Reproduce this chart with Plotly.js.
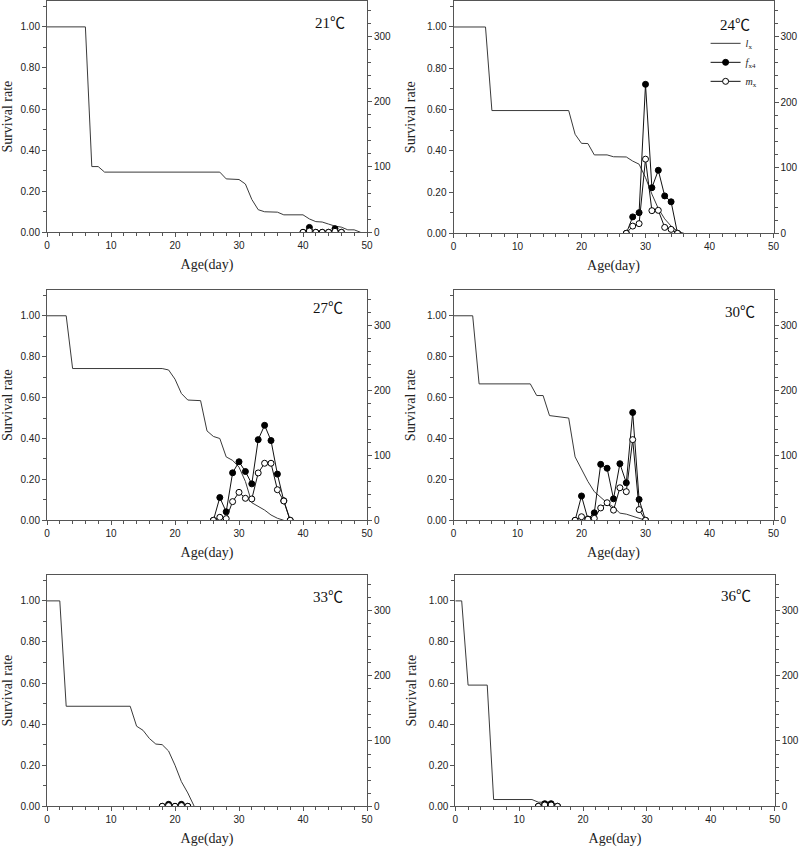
<!DOCTYPE html>
<html>
<head>
<meta charset="utf-8">
<script src="https://cdn.plot.ly/plotly-3.0.1.min.js"></script>
<style>html,body{margin:0;padding:0;background:#fff;}#chart{width:800px;height:848px;}</style>
</head>
<body>
<div id="chart"></div>
<script>
// ---------- data ----------
const temps = ["21℃", "24℃", "27℃", "30℃", "33℃", "36℃"];

const lxDays21 = [0,6,7,8,9,27,28,30,31,32,33,34,36,37,40,41,42,43,44,45,46,47,48,49];
const lx21 = [1,1,0.32,0.32,0.293,0.293,0.26,0.257,0.235,0.16,0.11,0.10,0.098,0.085,0.085,0.065,0.052,0.05,0.04,0.03,0.025,0.012,0.012,0];
const repDays21 = [40,41,42,43,44,45,46];
const fx21 = [0,7.5,0,0,0,5.5,0];
const mx21 = [0,2,0,0,0,1.5,0];

const lxDays24 = [0,5,6,18,19,20,21,22,24,25,27,28,29,30,31,32,33,34,35,36];
const lx24 = [1,1,0.595,0.595,0.48,0.436,0.435,0.38,0.38,0.371,0.37,0.35,0.335,0.27,0.19,0.12,0.07,0.035,0.01,0];
const repDays24 = [27,28,29,30,31,32,33,34,35];
const fx24 = [0,25,31.5,227,69.5,96,57,48,0];
const mx24 = [0,11,14.7,113,34.5,35,9,6,0];

const lxDays27 = [0,3,4,18,19,20,21,22,24,25,26,27,28,29,30,31,32,33,34,35,36,37];
const lx27 = [1,1,0.742,0.742,0.735,0.69,0.62,0.588,0.585,0.437,0.41,0.40,0.31,0.293,0.26,0.19,0.086,0.07,0.05,0.026,0.01,0];
const repDays27 = [26,27,28,29,30,31,32,33,34,35,36,37,38];
const fx27 = [0,35,13,73,90,75,56,124,146,122.6,71,30,0];
const mx27 = [0,4.6,2.6,28.7,43,33.8,32.8,72.8,87.7,87.7,47,29.7,0];

const lxDays30 = [0,3,4,12,13,14,15,17,18,19,20,21,22,23,24,25,26,27,28,29,30];
const lx30 = [1,1,0.667,0.667,0.61,0.61,0.512,0.504,0.50,0.31,0.25,0.19,0.14,0.11,0.085,0.065,0.035,0.03,0.02,0.007,0];
const repDays30 = [19,20,21,22,23,24,25,26,27,28,29,30];
const fx30 = [0,37.4,2,11.5,86,80,33,87,57.6,165.7,32,0];
const mx30 = [0,5.5,1.5,3,19,27,15.6,50,44,124,16.5,0];

const lxDays33 = [0,2,3,13,14,15,16,17,18,19,20,21,22,23];
const lx33 = [1,1,0.487,0.487,0.39,0.37,0.33,0.303,0.30,0.269,0.2,0.12,0.065,0];
const repDays33 = [18,19,20,21,22];
const fx33 = [0,3,0,3,0];
const mx33 = [0,1,0,1,0];

const lxDays36 = [0,1,2,5,6,12,13,15,16];
const lx36 = [1,1,0.59,0.59,0.033,0.033,0.02,0.02,0.005];
const repDays36 = [13,14,15,16];
const fx36 = [0,4,4,0];
const mx36 = [0,2,2,0];

const xTitle = "Age(day)";
const yTitle = "Survival rate";
const legendNames = ["<i>l</i><sub>x</sub>", "<i>f</i><sub>x4</sub>", "<i>m</i><sub>x</sub>"];

const panels = [
  {lxDays: lxDays21, lx: lx21, rep: repDays21, fx: fx21, mx: mx21},
  {lxDays: lxDays24, lx: lx24, rep: repDays24, fx: fx24, mx: mx24},
  {lxDays: lxDays27, lx: lx27, rep: repDays27, fx: fx27, mx: mx27},
  {lxDays: lxDays30, lx: lx30, rep: repDays30, fx: fx30, mx: mx30},
  {lxDays: lxDays33, lx: lx33, rep: repDays33, fx: fx33, mx: mx33},
  {lxDays: lxDays36, lx: lx36, rep: repDays36, fx: fx36, mx: mx36}
];

// ---------- layout geometry (pixels -> paper fractions) ----------
const W = 800, H = 848;
const xPix = [[47,367],[453.5,773.5],[47,367],[453.5,773.5],[47,367],[455.3,774.7]];
const yPix = [[1,232.3],[1,233.3],[290,520.3],[290,520.3],[575,806.3],[575,806.3]];
const labelPos = [[0.884,0.905],[0.881,0.897],[0.878,0.924],[0.894,0.904],[0.878,0.905],[0.879,0.909]];

const tickFont = {family: "Liberation Sans, Arial, sans-serif", size: 10, color: "#222"};
const titleFont = {family: "Liberation Serif, Times New Roman, serif", size: 14, color: "#222"};
const axisColor = "#555";

const traces = [];
const layout = {
  width: W, height: H,
  margin: {l: 0, r: 0, t: 0, b: 0},
  paper_bgcolor: "#fff", plot_bgcolor: "#fff",
  showlegend: true,
  legend: {
    x: 0.882, y: 0.966, xanchor: "left", yanchor: "top",
    bgcolor: "rgba(0,0,0,0)", itemwidth: 30, tracegroupgap: 0,
    font: {family: "Liberation Serif, Times New Roman, serif", size: 10, color: "#222"}
  },
  annotations: []
};

panels.forEach((p, k) => {
  const i = k + 1;
  const xa = "x" + i, yl = "y" + (2*i-1), yr = "y" + (2*i);
  const xKey = "xaxis" + i, ylKey = "yaxis" + (2*i-1), yrKey = "yaxis" + (2*i);
  const dom = [xPix[k][0]/W, xPix[k][1]/W];
  const ydom = [1 - yPix[k][1]/H, 1 - yPix[k][0]/H];
  const leg = (k === 1);

  traces.push({
    x: p.lxDays, y: p.lx, xaxis: xa, yaxis: yl, type: "scatter", mode: "lines",
    line: {color: "#3a3a3a", width: 1}, name: legendNames[0], showlegend: leg
  });
  traces.push({
    x: p.rep, y: p.fx, xaxis: xa, yaxis: yr, type: "scatter", mode: "lines+markers",
    line: {color: "#111", width: 1},
    marker: {symbol: "circle", size: 6, color: "#000", line: {color: "#000", width: 1}},
    name: legendNames[1], showlegend: leg
  });
  traces.push({
    x: p.rep, y: p.mx, xaxis: xa, yaxis: yr, type: "scatter", mode: "lines+markers",
    line: {color: "#111", width: 1},
    marker: {symbol: "circle", size: 6, color: "#fff", line: {color: "#000", width: 1}},
    name: legendNames[2], showlegend: leg
  });

  layout[xKey] = {
    domain: dom, anchor: yl, range: [0, 50], tick0: 0, dtick: 10,
    ticks: "outside", ticklen: 4, tickcolor: axisColor, tickwidth: 1,
    minor: {dtick: 2, tick0: 0, ticks: "outside", ticklen: 3, tickcolor: axisColor, showgrid: false},
    showline: true, linecolor: axisColor, linewidth: 1, mirror: true,
    showgrid: false, zeroline: false, tickfont: tickFont,
    title: {text: xTitle, font: titleFont, standoff: 8}
  };
  layout[ylKey] = {
    domain: ydom, anchor: xa, range: [0, 1.126], tick0: 0, dtick: 0.2, tickformat: ".2f",
    ticks: "outside", ticklen: 4, tickcolor: axisColor, tickwidth: 1,
    minor: {dtick: 0.1, tick0: 0, ticks: "outside", ticklen: 3, tickcolor: axisColor, showgrid: false},
    showline: true, linecolor: axisColor, linewidth: 1,
    showgrid: false, zeroline: false, tickfont: tickFont,
    title: {text: yTitle, font: titleFont, standoff: 8}
  };
  layout[yrKey] = {
    domain: ydom, anchor: xa, overlaying: yl, side: "right", range: [0, 354], tick0: 0, dtick: 100,
    ticks: "outside", ticklen: 4, tickcolor: axisColor, tickwidth: 1,
    minor: {dtick: 20, tick0: 0, ticks: "outside", ticklen: 3, tickcolor: axisColor, showgrid: false},
    showline: true, linecolor: axisColor, linewidth: 1,
    showgrid: false, zeroline: false, tickfont: tickFont
  };
  layout.annotations.push({
    xref: xa + " domain", yref: yl + " domain", x: labelPos[k][0], y: labelPos[k][1],
    xanchor: "center", yanchor: "middle", showarrow: false, text: temps[k],
    font: {family: "Liberation Serif, Noto Sans CJK SC, serif", size: 15, color: "#111"}
  });
});

Plotly.newPlot("chart", traces, layout, {staticPlot: true, displayModeBar: false});
</script>
</body>
</html>
